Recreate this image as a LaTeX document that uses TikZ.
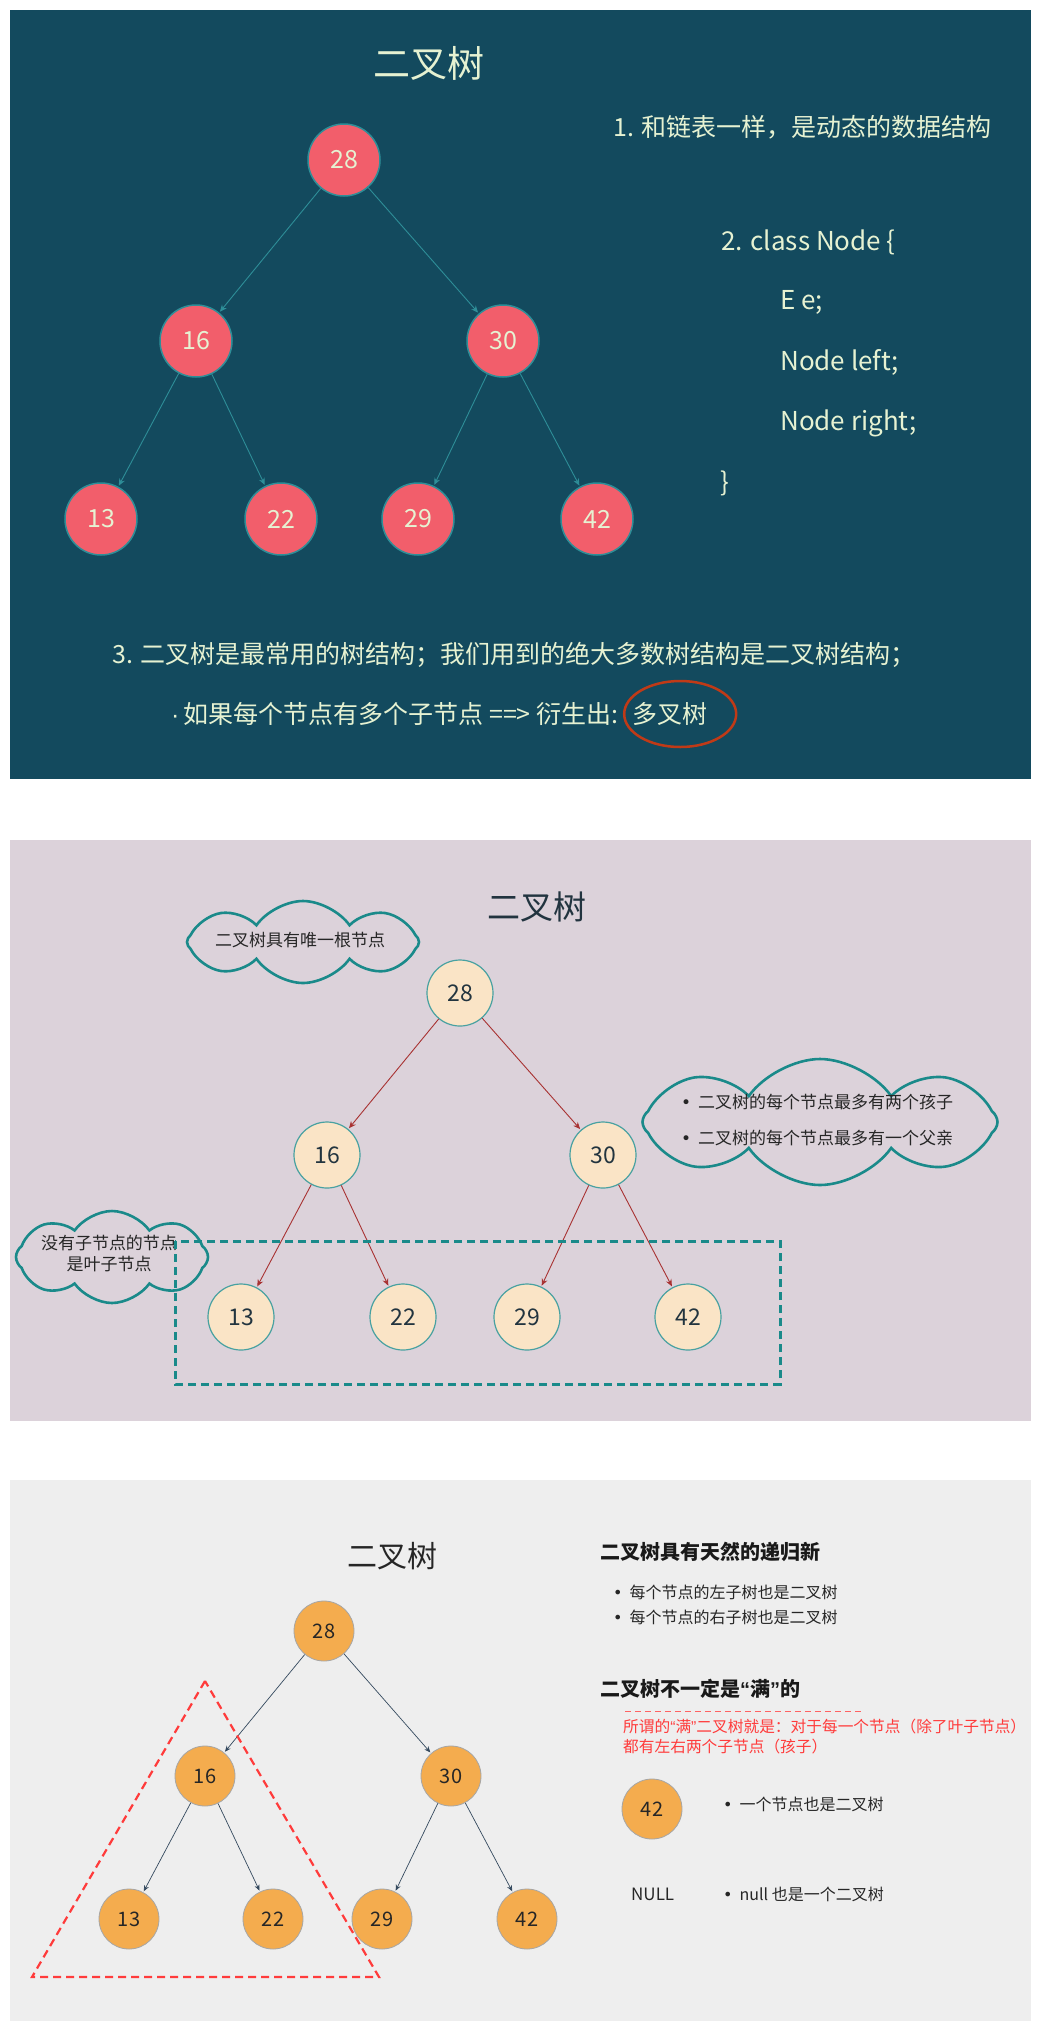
\documentclass[tikz,border=0pt]{standalone}
\usepackage{fontspec}
\setmainfont{Noto Sans CJK SC}
\newfontfamily\latinfont{Liberation Sans}
\newfontfamily\dotfont{DejaVu Sans}
\newcommand{\blob}{{\dotfont •}\hspace{7pt}}
\newcommand{\openq}{{\latinfont “}}
\newcommand{\closeq}{{\latinfont ”}}
\usetikzlibrary{arrows.meta,shapes.symbols,positioning}

\definecolor{deepteal}{HTML}{134A5E}
\definecolor{coral}{HTML}{F25E6B}
\definecolor{ringteal}{HTML}{2E8E98}
\definecolor{chalk}{HTML}{E6F2D2}
\definecolor{rust}{HTML}{C03A17}
\definecolor{mauve}{HTML}{DCD2DA}
\definecolor{bisque}{HTML}{FAE4C6}
\definecolor{cloudteal}{HTML}{1A8A8A}
\definecolor{brick}{HTML}{A83232}
\definecolor{inkslate}{HTML}{22343F}
\definecolor{paper}{HTML}{EEEEEE}
\definecolor{amber}{HTML}{F4AC4E}
\definecolor{steel}{HTML}{34495E}
\definecolor{alert}{HTML}{FF3B3B}

\begin{document}
\begin{tikzpicture}[x=1pt,y=-1pt,
    redball/.style={circle,fill=coral,draw=ringteal,line width=1.5pt,minimum size=72pt,
      inner sep=0pt,text=chalk,font=\fontsize{25}{25}\selectfont},
    creamball/.style={circle,fill=bisque,draw=cloudteal!80,line width=1.2pt,minimum size=66pt,
      inner sep=0pt,text=inkslate,font=\fontsize{23}{23}\selectfont},
    orangeball/.style={circle,fill=amber,draw=gray!70,line width=0.8pt,minimum size=60pt,
      inner sep=0pt,text=black!85,font=\fontsize{20}{20}\selectfont},
    tealarrow/.style={draw=ringteal,line width=0.9pt,-{Stealth[length=7pt,width=6pt]},shorten >=1pt},
    redarrow/.style={draw=brick,line width=0.9pt,-{Stealth[length=7pt,width=6pt]},shorten >=1pt},
    slatearrow/.style={draw=steel,line width=0.7pt,-{Stealth[length=6pt,width=5pt]},shorten >=1pt},
    chalktext/.style={inner sep=0pt,text=chalk,font=\fontsize{25}{25}\selectfont},
    codetext/.style={inner sep=0pt,text=chalk,anchor=west,font=\fontsize{26}{26}\selectfont},
    notecloud/.style={cloud,cloud puffs=8,cloud puff arc=110,cloud ignores aspect,
      draw=cloudteal,line width=2.6pt,inner sep=0pt},
    notetext/.style={inner sep=0pt,text=black!85,font=\fontsize{17}{21}\selectfont},
    plaintext/.style={inner sep=0pt,text=black!85,anchor=west,font=\fontsize{16}{20}\selectfont},
    headtext/.style={inner sep=0pt,text=black!90,anchor=west,font=\fontsize{20}{20}\selectfont\bfseries}]
\useasboundingbox (0,0) rectangle (1041,2030);
\fill[white] (0,0) rectangle (1041,2030);

% first panel: dark slide
\fill[deepteal] (10,10) rectangle (1031,779);
\node[chalktext,font=\fontsize{37}{37}\selectfont] (titleA) at (429,63) {二叉树};
\node[redball] (a28) at (344,160) {28};
\node[redball] (a16) at (196,341) {16};
\node[redball] (a30) at (503,341) {30};
\node[redball] (a13) at (101,519) {13};
\node[redball] (a22) at (281,519) {22};
\node[redball] (a29) at (418,519) {29};
\node[redball] (a42) at (597,519) {42};
\draw[tealarrow] (a28) -- (a16);
\draw[tealarrow] (a28) -- (a30);
\draw[tealarrow] (a16) -- (a13);
\draw[tealarrow] (a16) -- (a22);
\draw[tealarrow] (a30) -- (a29);
\draw[tealarrow] (a30) -- (a42);

\node[chalktext,anchor=west] (factA) at (613,127) {1. 和链表一样，是动态的数据结构};
\node[codetext] (codeA) at (721,242) {2. class Node \{};
\node[codetext] (codeB) at (780,302) {E e;};
\node[codetext] (codeC) at (780,362) {Node left;};
\node[codetext] (codeD) at (780,423) {Node right;};
\node[codetext] (codeE) at (720,483) {\}};
\node[chalktext,anchor=west] (factC) at (112,655) {3. 二叉树是最常用的树结构；我们用到的绝大多数树结构是二叉树结构；};
\node[chalktext,anchor=west] (factD) at (171,714) {{\latinfont ·}\hspace{4pt}如果每个节点有多个子节点 ==> 衍生出:};
\node[chalktext,anchor=west,right=14pt of factD] (multi) {多叉树};
\draw[rust,line width=2.5pt] ([xshift=10pt]multi.center) ellipse [x radius=56pt,y radius=33pt];

% second panel: mauve slide with notes
\fill[mauve] (10,840) rectangle (1031,1421);
\node[inner sep=0pt,text=inkslate,font=\fontsize{33}{33}\selectfont] (titleB) at (537,907) {二叉树};
\node[notecloud,minimum width=232pt,minimum height=82pt] (rootcloud) at (303,942) {};
\node[notetext] (rootnote) at (300,940) {二叉树具有唯一根节点};
\node[notecloud,minimum width=355pt,minimum height=126pt] (degreecloud) at (820,1122) {};
\node[notetext,anchor=west,align=left,font=\fontsize{17}{36}\selectfont] (degreenote) at (681,1120)
  {\blob 二叉树的每个节点最多有两个孩子\\\blob 二叉树的每个节点最多有一个父亲};
\node[notecloud,minimum width=192pt,minimum height=92pt] (leafcloud) at (112,1257) {};
\node[notetext,align=center] (leafnote) at (109,1253) {没有子节点的节点\\是叶子节点};

\node[creamball] (b28) at (460,993) {28};
\node[creamball] (b16) at (327,1155) {16};
\node[creamball] (b30) at (603,1155) {30};
\node[creamball] (b13) at (241,1317) {13};
\node[creamball] (b22) at (403,1317) {22};
\node[creamball] (b29) at (527,1317) {29};
\node[creamball] (b42) at (688,1317) {42};
\draw[redarrow] (b28) -- (b16);
\draw[redarrow] (b28) -- (b30);
\draw[redarrow] (b16) -- (b13);
\draw[redarrow] (b16) -- (b22);
\draw[redarrow] (b30) -- (b29);
\draw[redarrow] (b30) -- (b42);
\draw[cloudteal,line width=3pt,dash pattern=on 8pt off 5pt] (175,1241) rectangle (780,1384);

% third panel: grey slide, recursion
\fill[paper] (10,1480) rectangle (1031,2021);
\node[inner sep=0pt,text=black!85,font=\fontsize{30}{30}\selectfont] (titleC) at (392,1556) {二叉树};
\node[orangeball] (c28) at (324,1631) {28};
\node[orangeball] (c16) at (205,1776) {16};
\node[orangeball] (c30) at (451,1776) {30};
\node[orangeball] (c13) at (129,1919) {13};
\node[orangeball] (c22) at (273,1919) {22};
\node[orangeball] (c29) at (382,1919) {29};
\node[orangeball] (c42) at (527,1919) {42};
\draw[slatearrow] (c28) -- (c16);
\draw[slatearrow] (c28) -- (c30);
\draw[slatearrow] (c16) -- (c13);
\draw[slatearrow] (c16) -- (c22);
\draw[slatearrow] (c30) -- (c29);
\draw[slatearrow] (c30) -- (c42);
\draw[alert,line width=2.2pt,dash pattern=on 8pt off 5pt] (205,1681) -- (32,1977) -- (379,1977) -- cycle;

\node[headtext] (recurhead) at (600,1552) {二叉树具有天然的递归新};
\node[plaintext] (leftsub) at (613,1592) {\blob 每个节点的左子树也是二叉树};
\node[plaintext] (rightsub) at (613,1617) {\blob 每个节点的右子树也是二叉树};
\node[headtext] (fullhead) at (600,1689) {二叉树不一定是\openq 满\closeq 的};
\draw[alert!80,line width=0.8pt,dash pattern=on 6pt off 4pt] (625,1711) -- (862,1711);
\node[plaintext,text=alert,align=left,font=\fontsize{15.7}{20}\selectfont] (fullnote) at (623,1737)
  {所谓的\openq 满\closeq 二叉树就是：对于每一个节点（除了叶子节点）\\都有左右两个子节点（孩子）};
\node[orangeball] (single) at (652,1809) {42};
\node[plaintext] (singlenote) at (723,1804) {\blob 一个节点也是二叉树};
\node[plaintext,font=\fontsize{17}{17}\selectfont] (nullbox) at (631,1894) {NULL};
\node[plaintext] (nullnote) at (723,1894) {\blob null 也是一个二叉树};
\end{tikzpicture}
\end{document}
